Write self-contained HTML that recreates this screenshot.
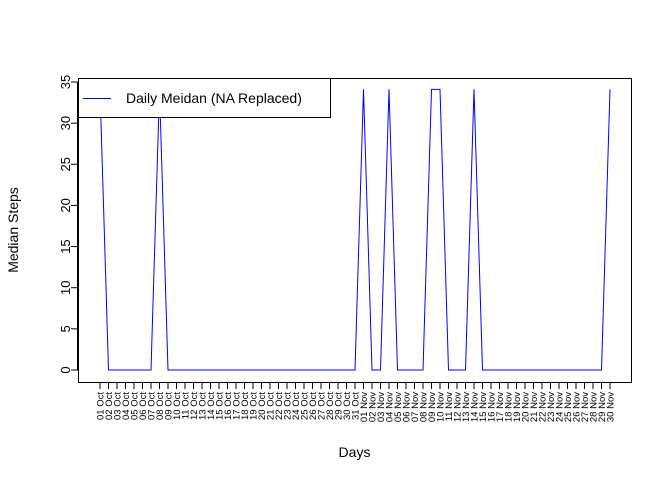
<!DOCTYPE html>
<html><head><meta charset="utf-8"><style>
body{margin:0;background:#fff}
svg{display:block;font-family:"Liberation Sans",Arial,sans-serif}
</style></head><body>
<svg id="chart" width="672" height="480"></svg>
<script>
const days = [];
for (let i = 1; i <= 31; i++) days.push(String(i).padStart(2,'0') + ' Oct');
for (let i = 1; i <= 30; i++) days.push(String(i).padStart(2,'0') + ' Nov');
const naDays = ['01 Oct','08 Oct','01 Nov','04 Nov','09 Nov','10 Nov','14 Nov','30 Nov'];
const medianValues = days.map(d => naDays.includes(d) ? 34.11 : 0);
const yTicks = [0,5,10,15,20,25,30,35];

const NS = 'http://www.w3.org/2000/svg';
const svg = document.getElementById('chart');
function mk(tag, attrs, parent) {
  const e = document.createElementNS(NS, tag);
  for (const k in attrs) e.setAttribute(k, attrs[k]);
  (parent || svg).appendChild(e);
  return e;
}
const L = 78, R = 631, T = 78, B = 382;
const x = i => 100 + i * (610 - 100) / (days.length - 1);
const y = v => 370 - v * (370 - 82) / 35;

let d = '';
medianValues.forEach((v, i) => { d += (i ? 'L' : 'M') + x(i) + ' ' + y(v); });
const line = mk('path', {d: d, fill: 'none', stroke: '#0000ff', 'stroke-width': 1});



const box = mk('rect', {x: L + .5, y: T + .5, width: R - L, height: B - T, fill: 'none', stroke: '#000'});



const ya = mk('g', {});


mk('line', {x1: L - .5, x2: L - .5, y1: y(0), y2: y(35), stroke: '#000'}, ya);
yTicks.forEach(t => {
  mk('line', {x1: L - 7, x2: L, y1: y(t), y2: y(t), stroke: '#000'}, ya);
  const tx = mk('text', {x: 0, y: 0, 'font-size': 13, 'text-anchor': 'middle',
    transform: `translate(${L - 8},${y(t)}) rotate(-90)`}, ya);
  tx.textContent = t;
  
  
});

const xa = mk('g', {});


mk('line', {x1: x(0), x2: x(days.length - 1), y1: B + .5, y2: B + .5, stroke: '#000'}, xa);
days.forEach((dd, i) => {
  mk('line', {x1: x(i), x2: x(i), y1: B, y2: B + 7, stroke: '#000'}, xa);
  const tx = mk('text', {x: 0, y: 0, 'font-size': 9.5, 'text-anchor': 'end',
    transform: `translate(${x(i) + 3.5},${B + 10}) rotate(-90)`}, xa);
  tx.textContent = dd;
  
  
});

const xt = mk('text', {x: (L + R) / 2, y: 457, 'font-size': 14, 'text-anchor': 'middle'});
xt.textContent = 'Days';


const yt = mk('text', {x: 0, y: 0, 'font-size': 14, 'text-anchor': 'middle', transform: `translate(18,${(T + B) / 2}) rotate(-90)`});
yt.textContent = 'Median Steps';



const lg = mk('g', {});


mk('rect', {x: L + .5, y: T + .5, width: 252, height: 39, fill: '#fff', stroke: '#000'}, lg);
mk('line', {x1: 83, x2: 111, y1: 98.5, y2: 98.5, stroke: '#0000ff'}, lg);
const lt = mk('text', {x: 126, y: 103, 'font-size': 14}, lg);
lt.textContent = 'Daily Meidan (NA Replaced)';


</script>
</body></html>
